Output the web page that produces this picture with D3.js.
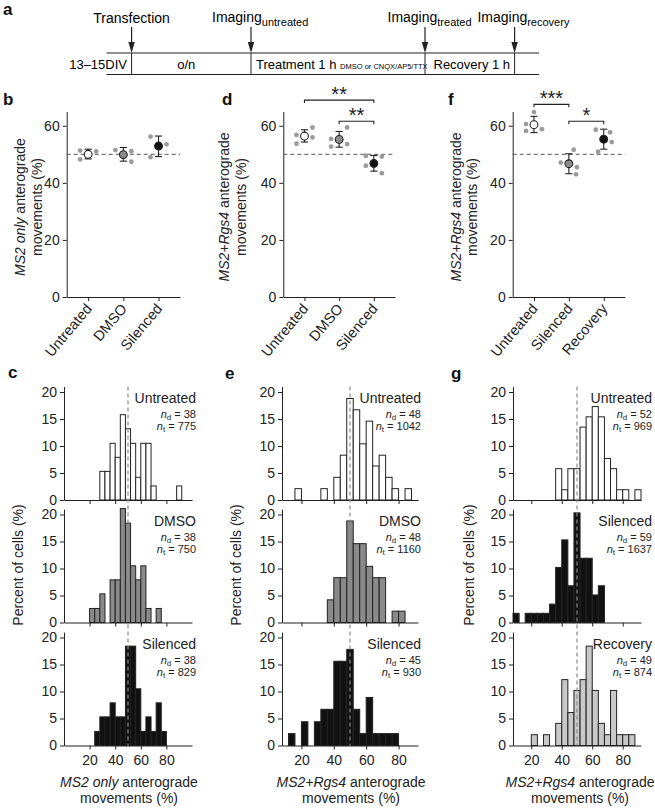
<!DOCTYPE html>
<html>
<head>
<meta charset="utf-8">
<script src="https://cdn.jsdelivr.net/npm/d3@7"></script>
<style>
  body { margin: 0; background: #fff; }
  svg { font-family: "Liberation Sans", Arial, Helvetica, sans-serif; }
  .axis path, .axis line { stroke: #222; stroke-width: 1; }
  .axis text { font-size: 14px; fill: #222; font-family: "Liberation Sans", Arial, sans-serif; }
</style>
</head>
<body>
<svg id="fig" width="655" height="808"></svg>
<script>
// ---- data: dot plots (b, d, f) ----
const catsB = ["Untreated", "DMSO", "Silenced"];
const meanB = [50.0, 49.9, 52.9];
const semLoB = [48.4, 47.6, 49.2];
const semHiB = [51.8, 52.4, 56.4];
const expB = [[51.3, 48.2, 51.0], [51.5, 51.1, 47.4], [56.2, 49.0, 53.5]];

const catsD = ["Untreated", "DMSO", "Silenced"];
const meanD = [56.4, 55.2, 46.8];
const semLoD = [54.3, 52.5, 44.1];
const semHiD = [58.6, 58.0, 49.6];
const expD = [[56.8, 53.7, 59.4, 55.9], [55.4, 52.7, 59.4, 53.6], [49.5, 46.0, 49.2, 43.4]];
const sigD = [["Untreated", "Silenced", "**", 69], ["DMSO", "Silenced", "**", 61.6]];

const catsF = ["Untreated", "Silenced", "Recovery"];
const meanF = [60.4, 46.7, 55.3];
const semLoF = [57.6, 43.2, 51.8];
const semHiF = [63.3, 50.2, 58.8];
const expF = [[60.6, 58.2, 64.8, 58.8], [51.6, 47.1, 45.5, 43.0], [58.6, 50.9, 57.7, 54.3]];
const sigF = [["Untreated", "Silenced", "***", 67.5], ["Silenced", "Recovery", "*", 61.6]];

const dotTicks = [0, 20, 40, 60];

// ---- data: histograms (c, e, g), percent of cells per 4% bin ----
const binStarts = [8, 12, 16, 20, 24, 28, 32, 36, 40, 44, 48, 52, 56, 60, 64, 68, 72, 76, 80, 84, 88];

const cUntreated = [0, 0, 0, 0, 0, 5.3, 5.3, 10.5, 7.9, 15.8, 13.2, 10.5, 4.2, 10.5, 10.5, 2.6, 0, 0, 0, 0, 2.6];
const cDMSO      = [0, 0, 0, 2.6, 2.6, 5.3, 0, 7.9, 7.9, 21.1, 18.4, 10.5, 7.9, 10.5, 2.6, 0, 2.6, 0, 0, 0, 0];
const cSilenced  = [0, 0, 0, 0, 2.6, 5.3, 5.3, 7.9, 5.3, 5.3, 18.4, 18.4, 10.5, 2.6, 5.3, 2.6, 7.9, 2.6, 0, 0, 0];

const eUntreated = [0, 0, 2.1, 0, 0, 0, 2.1, 0, 4.2, 8.3, 18.8, 16.7, 10.4, 14.6, 6.3, 8.3, 4.2, 2.1, 0, 2.1, 0];
const eDMSO      = [0, 0, 0, 0, 0, 0, 0, 4.2, 8.3, 8.3, 18.8, 14.6, 14.6, 10.4, 8.3, 8.3, 0, 2.1, 2.1, 0, 0];
const eSilenced  = [0, 2.2, 0, 4.4, 0, 4.4, 6.7, 6.7, 15.6, 15.6, 17.8, 6.7, 2.2, 8.9, 2.2, 2.2, 2.2, 2.2, 0, 0, 0];

const gUntreated = [0, 0, 0, 0, 0, 0, 0, 5.8, 1.9, 5.8, 5.8, 13.5, 15.4, 17.3, 15.4, 7.7, 5.8, 1.9, 1.9, 0, 1.9];
const gSilenced  = [1.7, 0, 1.7, 1.7, 1.7, 1.7, 3.4, 10.2, 15.3, 6.8, 20.3, 11.9, 11.9, 5.1, 6.8, 0, 0, 0, 0, 0, 0];
const gRecovery  = [0, 0, 0, 2.0, 0, 2.0, 0, 4.1, 12.2, 6.1, 10.2, 12.2, 18.4, 10.2, 4.1, 2.0, 10.2, 2.0, 2.0, 2.0, 0];

const ndC = [38, 38, 38], ntC = [775, 750, 829];
const ndE = [48, 48, 45], ntE = [1042, 1160, 930];
const ndG = [52, 59, 49], ntG = [969, 1637, 874];

const histYTicks = [0, 5, 10, 15, 20];
const histXTicks = [20, 40, 60, 80];

// ---- timeline (a) ----
const tlEvents = ["Transfection", "Imaging|untreated", "Imaging|treated", "Imaging|recovery"];
const tlStages = ["o/n", "Treatment 1 h", "Recovery 1 h"];

const svg = d3.select("#fig");
const ink = "#222";
const dotGrey = "#9b9b9b";

// ---------- panel letters ----------
[["a", 3, 15], ["b", 3, 105], ["c", 8, 378], ["d", 222, 105], ["e", 225, 379], ["f", 448, 105], ["g", 451, 379]]
  .forEach(([t, x, y]) => {
    svg.append("text").attr("x", x).attr("y", y).attr("font-size", 17).attr("font-weight", "bold")
      .attr("fill", "#111").text(t);
  });

// ---------- timeline ----------
(function timeline() {
  const g = svg.append("g");
  const evX = [131.6, 251, 425, 514.6];
  const top = 53, bot = 74.5, x0 = 106.5, x1 = 539;
  g.append("line").attr("x1", x0).attr("x2", x1).attr("y1", top).attr("y2", top).attr("stroke", ink);
  g.append("line").attr("x1", x0).attr("x2", x1).attr("y1", bot).attr("y2", bot).attr("stroke", ink);
  tlEvents.forEach((ev, i) => {
    const x = evX[i];
    g.append("line").attr("x1", x).attr("x2", x).attr("y1", top).attr("y2", bot).attr("stroke", ink);
    g.append("line").attr("x1", x).attr("x2", x).attr("y1", 27).attr("y2", 44).attr("stroke", ink).attr("stroke-width", 1.2);
    g.append("path").attr("d", `M${x - 3.2},42 L${x + 3.2},42 L${x},${top} Z`).attr("fill", ink);
    const [main, sub] = ev.split("|");
    if (!sub) {
      g.append("text").attr("x", x).attr("y", 23).attr("text-anchor", "middle").attr("font-size", 14).text(main);
    } else {
      const t = g.append("text").attr("x", x - [0, 39, 37.5, 37.2][i]).attr("y", 21.5).attr("font-size", 14);
      t.append("tspan").text(main);
      t.append("tspan").attr("dy", 4).attr("font-size", 11).text(sub);
    }
  });
  g.append("text").attr("x", 127).attr("y", 69).attr("text-anchor", "end").attr("font-size", 13).text("13–15DIV");
  g.append("text").attr("x", (evX[0] + evX[1]) / 2 - 5).attr("y", 69).attr("text-anchor", "middle").attr("font-size", 13).text(tlStages[0]);
  const tr = g.append("text").attr("x", evX[1] + 5).attr("y", 69).attr("font-size", 13);
  tr.append("tspan").text(tlStages[1] + " ");
  tr.append("tspan").attr("font-size", 7.5).text("DMSO or CNQX/AP5/TTX");
  g.append("text").attr("x", (evX[2] + evX[3]) / 2 + 2).attr("y", 69).attr("text-anchor", "middle").attr("font-size", 13).text(tlStages[2]);
})();

// ---------- dot plots ----------
const yDot = d3.scaleLinear().domain([0, 65]).range([297, 111.5]);

function rotLabel(g, x, y, italicPart, rest, gap) {
  const r = g.append("g").attr("transform", `translate(${x},${y}) rotate(-90)`);
  const t1 = r.append("text").attr("text-anchor", "middle").attr("font-size", 14).attr("fill", ink);
  t1.append("tspan").attr("font-style", "italic").text(italicPart);
  t1.append("tspan").text(rest);
  r.append("text").attr("y", gap).attr("text-anchor", "middle").attr("font-size", 14).attr("fill", ink)
    .text("movements (%)");
}

function dotPanel(o) {
  const g = svg.append("g");
  const x = d3.scalePoint().domain(o.cats).range([o.x0, o.x1]).padding(0.61);

  g.append("g").attr("class", "axis").attr("transform", `translate(${o.x0},0)`)
    .call(d3.axisLeft(yDot).tickValues(dotTicks).tickSize(4).tickSizeOuter(0).tickPadding(3));

  const xa = g.append("g").attr("class", "axis").attr("transform", `translate(0,${yDot(0)})`)
    .call(d3.axisBottom(x).tickSize(4).tickSizeOuter(0));
  xa.selectAll("text").attr("x", 0).attr("y", 0).attr("dy", 0).style("font-size", "14.5px")
    .attr("text-anchor", "end").attr("transform", "translate(4,12) rotate(-50)");

  g.append("line").attr("x1", o.x0).attr("x2", o.x1).attr("y1", yDot(50)).attr("y2", yDot(50))
    .attr("stroke", "#555").attr("stroke-dasharray", "4,3");

  o.cats.forEach((c, i) => {
    const cx = x(c);
    o.exp[i].forEach((v, j) => {
      g.append("circle").attr("cx", cx + 8 * o.side[i][j]).attr("cy", yDot(v)).attr("r", 2.4).attr("fill", dotGrey);
    });
    g.append("line").attr("x1", cx).attr("x2", cx).attr("y1", yDot(o.lo[i])).attr("y2", yDot(o.hi[i]))
      .attr("stroke", ink).attr("stroke-width", 1.1);
    [o.lo[i], o.hi[i]].forEach(v => {
      g.append("line").attr("x1", cx - 3.6).attr("x2", cx + 3.6).attr("y1", yDot(v)).attr("y2", yDot(v))
        .attr("stroke", ink).attr("stroke-width", 1.1);
    });
    g.append("circle").attr("cx", cx).attr("cy", yDot(o.mean[i])).attr("r", 3.9)
      .attr("fill", o.fills[i]).attr("stroke", ink).attr("stroke-width", 1.1);
  });

  (o.sig || []).forEach(([a, b, lab, lv]) => {
    const ya = yDot(lv), xa1 = x(a), xb = x(b);
    g.append("path").attr("d", `M${xa1},${ya + 3} V${ya} H${xb} V${ya + 3}`)
      .attr("fill", "none").attr("stroke", ink).attr("stroke-width", 1.1);
    g.append("text").attr("x", (xa1 + xb) / 2).attr("y", ya + 1).attr("text-anchor", "middle")
      .attr("font-size", 20).attr("fill", ink).text(lab);
  });

  rotLabel(g, o.ylabX, 207, o.lab, " anterograde", o.gap);
}

dotPanel({ cats: catsB, mean: meanB, lo: semLoB, hi: semHiB, exp: expB, x0: 66.7, x1: 180,
  side: [[-1, -1, 1], [-1, 1, 1], [-1, -1, 1]], fills: ["#fff", "#8c8c8c", "#111"],
  lab: "MS2 only", ylabX: 25, gap: 17 });
dotPanel({ cats: catsD, mean: meanD, lo: semLoD, hi: semHiD, exp: expD, x0: 283.3, x1: 395,
  side: [[-1, -1, 1, 1], [-1, -1, 1, 1], [-1, -1, 1, 1]], fills: ["#fff", "#8c8c8c", "#111"],
  sig: sigD, lab: "MS2+Rgs4", ylabX: 229, gap: 17 });
dotPanel({ cats: catsF, mean: meanF, lo: semLoF, hi: semHiF, exp: expF, x0: 512.7, x1: 625,
  side: [[-1, -1, 0, 1], [0.6, -1, 1, 0.9], [-1, -0.7, 0.8, 1]], fills: ["#fff", "#8c8c8c", "#111"],
  sig: sigF, lab: "MS2+Rgs4", ylabX: 461, gap: 16 });

// ---------- histograms ----------
const zeroLines = [500, 622.5, 745.5];

function histColumn(o) {
  const g = svg.append("g");
  const x = d3.scaleLinear().domain(o.domain).range([o.x0, o.x1]);
  const bw = 4;

  o.series.forEach((s, k) => {
    const y = d3.scaleLinear().domain([0, 21]).range([zeroLines[k], zeroLines[k] - 21 * 5.4]);
    g.append("g").attr("class", "axis").attr("transform", `translate(${o.x0},0)`)
      .call(d3.axisLeft(y).tickValues(histYTicks).tickSize(4).tickSizeOuter(0).tickPadding(3));
    g.append("g").attr("class", "axis").attr("transform", `translate(0,${zeroLines[k]})`)
      .call(d3.axisBottom(x).tickValues(histXTicks).tickSize(4).tickSizeOuter(0).tickPadding(6)
        .tickFormat(k === 2 ? d3.format("d") : () => ""));

    g.append("g").selectAll("rect")
      .data(binStarts.map((b, i) => ({ b, v: s.values[i] })).filter(d => d.v > 0))
      .join("rect")
      .attr("x", d => x(d.b)).attr("width", d => x(d.b + bw) - x(d.b))
      .attr("y", d => y(d.v)).attr("height", d => y(0) - y(d.v))
      .attr("fill", s.fill).attr("stroke", ink).attr("stroke-width", 1);

    const tx = o.textX, z = zeroLines[k];
    g.append("text").attr("x", tx).attr("y", z - 97).attr("text-anchor", "end").attr("font-size", 14)
      .attr("fill", ink).text(s.name);
    [["d", s.nd, z - 82], ["t", s.nt, z - 70]].forEach(([sub, val, yy]) => {
      const t = g.append("text").attr("x", tx).attr("y", yy).attr("text-anchor", "end")
        .attr("font-size", 11).attr("fill", ink);
      t.append("tspan").attr("font-style", "italic").text("n");
      t.append("tspan").attr("dy", 2).attr("font-size", 8).text(sub);
      t.append("tspan").attr("dy", -2).text(" = " + val);
    });
  });

  g.append("line").attr("x1", x(50)).attr("x2", x(50))
    .attr("y1", zeroLines[0] - 21 * 5.4).attr("y2", zeroLines[2])
    .attr("stroke", "#8a8a8a").attr("stroke-width", 1.2).attr("stroke-dasharray", "4,3");

  const r = g.append("g").attr("transform", `translate(${o.ylabX},565) rotate(-90)`);
  r.append("text").attr("text-anchor", "middle").attr("font-size", 14).attr("fill", ink)
    .text("Percent of cells (%)");

  const cx = o.xlabX;
  const t1 = g.append("text").attr("x", cx).attr("y", 787).attr("text-anchor", "middle")
    .attr("font-size", 14).attr("fill", ink);
  t1.append("tspan").attr("font-style", "italic").text(o.lab);
  t1.append("tspan").text(" anterograde");
  g.append("text").attr("x", cx).attr("y", 803).attr("text-anchor", "middle")
    .attr("font-size", 14).attr("fill", ink).text("movements (%)");
}

histColumn({ domain: [0, 100], x0: 64, x1: 192, textX: 196, ylabX: 23, xlabX: 129, lab: "MS2 only",
  series: [
    { name: "Untreated", values: cUntreated, fill: "#fff", nd: ndC[0], nt: ntC[0] },
    { name: "DMSO", values: cDMSO, fill: "#8a8a8a", nd: ndC[1], nt: ntC[1] },
    { name: "Silenced", values: cSilenced, fill: "#111", nd: ndC[2], nt: ntC[2] }
  ] });
histColumn({ domain: [8, 92], x0: 282, x1: 418, textX: 421, ylabX: 241, xlabX: 351, lab: "MS2+Rgs4",
  series: [
    { name: "Untreated", values: eUntreated, fill: "#fff", nd: ndE[0], nt: ntE[0] },
    { name: "DMSO", values: eDMSO, fill: "#8a8a8a", nd: ndE[1], nt: ntE[1] },
    { name: "Silenced", values: eSilenced, fill: "#111", nd: ndE[2], nt: ntE[2] }
  ] });
histColumn({ domain: [8, 92], x0: 513, x1: 641, textX: 652, ylabX: 474, xlabX: 580, lab: "MS2+Rgs4",
  series: [
    { name: "Untreated", values: gUntreated, fill: "#fff", nd: ndG[0], nt: ntG[0] },
    { name: "Silenced", values: gSilenced, fill: "#111", nd: ndG[1], nt: ntG[1] },
    { name: "Recovery", values: gRecovery, fill: "#c8c8c8", nd: ndG[2], nt: ntG[2] }
  ] });
</script>
</body>
</html>
